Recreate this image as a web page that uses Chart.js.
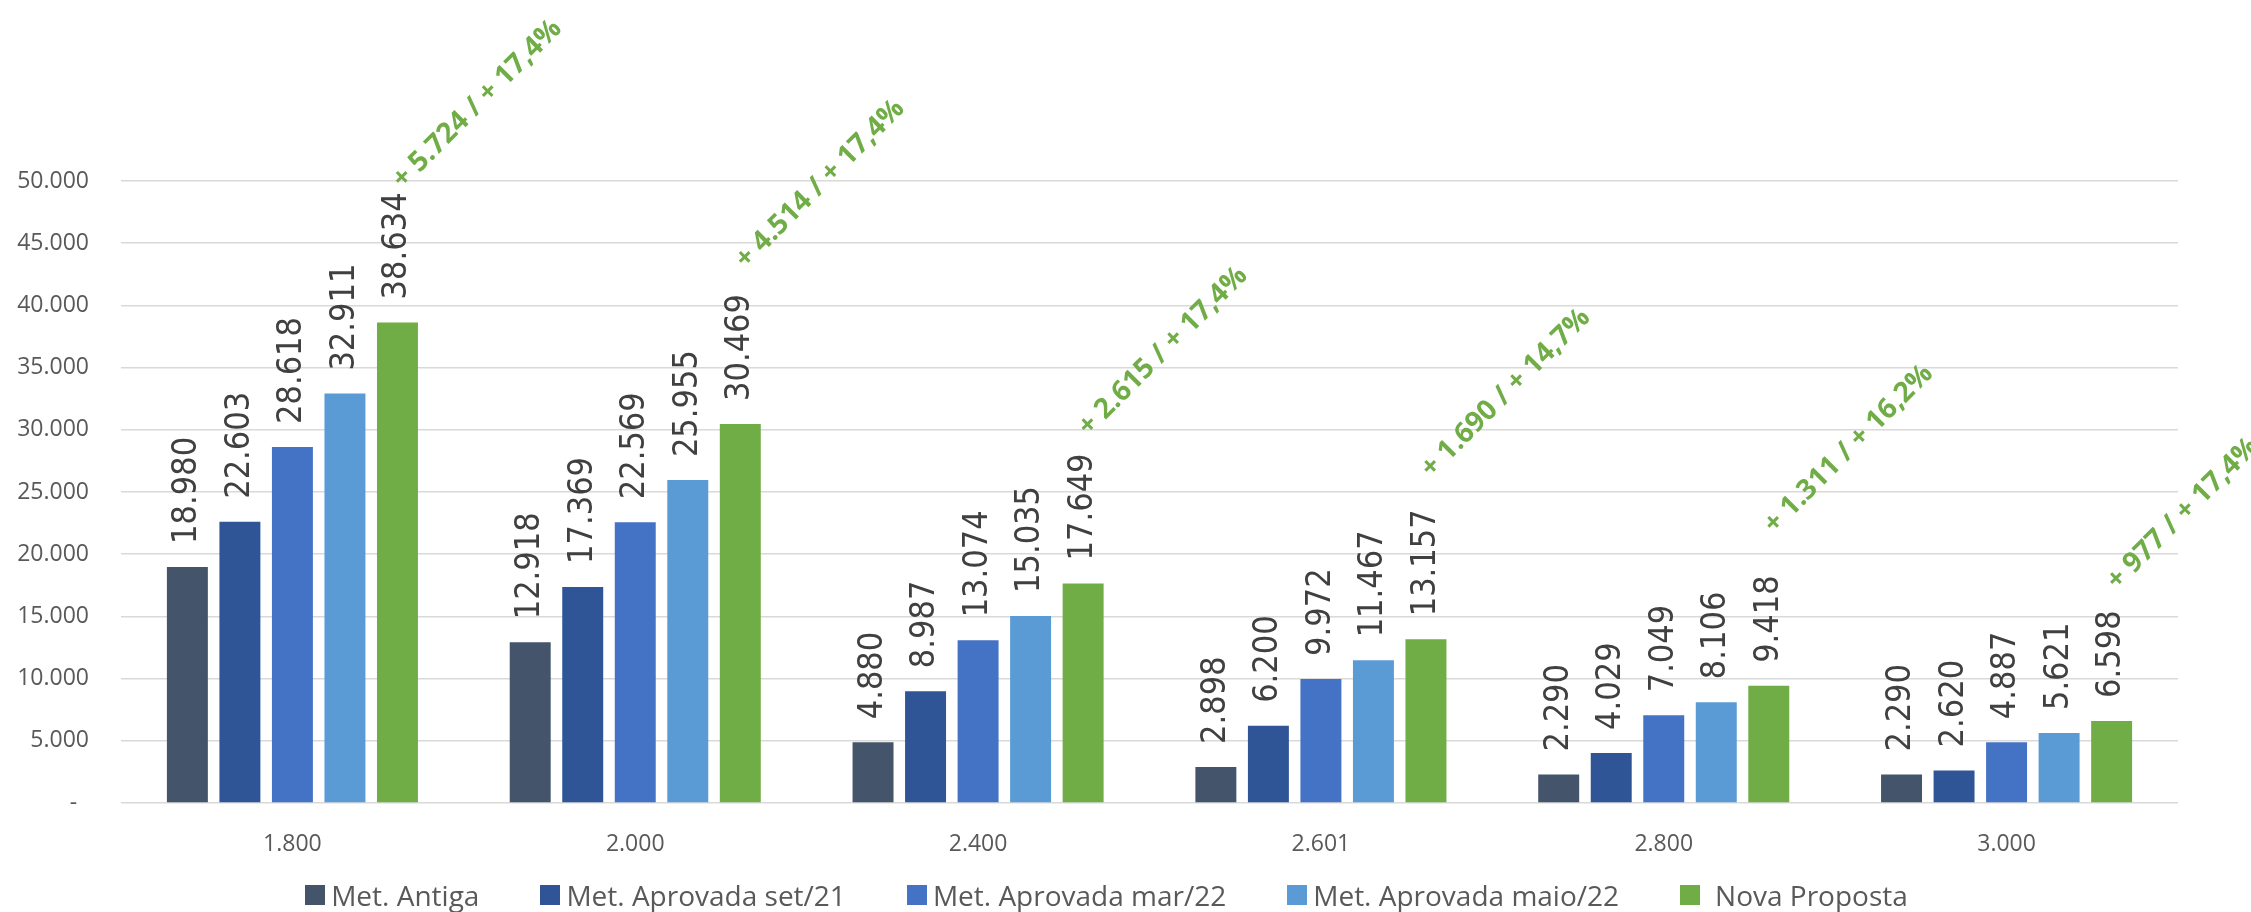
<!DOCTYPE html>
<html>
<head>
<meta charset="utf-8">
<script src="https://cdn.jsdelivr.net/npm/chart.js"></script>
<style>
  html, body { margin: 0; padding: 0; background: #fff; }
  #wrap { width: 2251px; height: 912px; position: relative; }
  #legenda {
    position: absolute; left: 0; top: 881px; width: 2213px;
    display: flex; justify-content: center; gap: 61px;
    font-family: 'Open Sans', sans-serif; font-size: 28px; line-height: 28px;
    color: #595959; white-space: nowrap;
  }
  #legenda .item { display: flex; align-items: center; }
  #legenda .box { width: 20px; height: 20px; margin-right: 6px; }
  #legenda .item:last-child .box { margin-right: 15px; }
</style>
</head>
<body>
<div id="wrap">
  <canvas id="barChart"></canvas>
  <div id="legenda"></div>
</div>
<script>
// categorias (eixo x)
var categorias = ["1.800", "2.000", "2.400", "2.601", "2.800", "3.000"];

// séries
var metAntiga      = [18980, 12918, 4880, 2898, 2290, 2290];
var aprovadaSet21  = [22603, 17369, 8987, 6200, 4029, 2620];
var aprovadaMar22  = [28618, 22569, 13074, 9972, 7049, 4887];
var aprovadaMaio22 = [32911, 25955, 15035, 11467, 8106, 5621];
var novaProposta   = [38634, 30469, 17649, 13157, 9418, 6598];

// diferença nova proposta x maio/22 e altura (valor no eixo) onde o texto começa
var ganhoTexto = ["+ 5.724 / + 17,4%", "+ 4.514 / + 17,4%", "+ 2.615 / + 17,4%",
                  "+ 1.690 / + 14,7%", "+ 1.311 / + 16,2%", "+ 977 / + 17,4%"];
var ganhoEm    = [49760, 43330, 29900, 26530, 22030, 17520];

// eixo y
var yMin = 0, yMax = 50000, yPasso = 5000;

function milhar(v) {
    return String(v).replace(/\B(?=(\d{3})+(?!\d))/g, '.');
}

var rotulosBarras = {
    id: 'rotulosBarras',
    afterDatasetsDraw: function (chart) {
        var ctx = chart.ctx;
        ctx.save();
        ctx.fillStyle = '#404040';
        ctx.font = "34px 'Liberation Sans Narrow', 'DejaVu Sans Condensed', sans-serif";
        ctx.textAlign = 'left';
        ctx.textBaseline = 'middle';
        chart.data.datasets.forEach(function (ds, i) {
            chart.getDatasetMeta(i).data.forEach(function (bar, j) {
                ctx.save();
                ctx.translate(bar.x, bar.y - 23);
                ctx.rotate(-Math.PI / 2);
                ctx.fillText(milhar(ds.data[j]), 0, 0);
                ctx.restore();
            });
        });

        // textos verdes de ganho
        var ultima = chart.getDatasetMeta(chart.data.datasets.length - 1);
        var y = chart.scales.y;
        ctx.fillStyle = '#70AD47';
        ctx.font = "bold 28px 'Open Sans', sans-serif";
        ultima.data.forEach(function (bar, j) {
            ctx.save();
            ctx.translate(bar.x, y.getPixelForValue(ganhoEm[j]));
            ctx.rotate(-Math.PI / 4);
            ctx.fillText(ganhoTexto[j], 0, 0);
            ctx.restore();
        });
        ctx.restore();
    }
};

var ctx = document.getElementById("barChart");
var myChart = new Chart(ctx, {
    type: 'bar',
    data: {
        labels: categorias,
        datasets: [
            { label: "Met. Antiga", data: metAntiga, backgroundColor: "#44546A" },
            { label: "Met. Aprovada set/21", data: aprovadaSet21, backgroundColor: "#2F5597" },
            { label: "Met. Aprovada mar/22", data: aprovadaMar22, backgroundColor: "#4472C4" },
            { label: "Met. Aprovada maio/22", data: aprovadaMaio22, backgroundColor: "#5B9BD5" },
            { label: "Nova Proposta", data: novaProposta, backgroundColor: "#70AD47" }
        ]
    },
    options: {
        responsive: true,
        maintainAspectRatio: false,
        animation: false,
        categoryPercentage: 0.766,
        barPercentage: 0.78,
        layout: { padding: { top: 181, left: 0, right: 73, bottom: 61 } },
        plugins: {
            tooltip: { enabled: false },
            legend: { display: false }
        },
        scales: {
            x: {
                grid: { display: false },
                border: { display: false },
                ticks: {
                    color: '#595959',
                    padding: 20,
                    font: { family: "'Open Sans', sans-serif", size: 23 }
                },
                afterFit: function (scale) { scale.height = 48; }
            },
            y: {
                min: yMin,
                max: yMax,
                border: { display: false },
                grid: { color: '#D9D9D9', lineWidth: 1.5, drawTicks: false },
                ticks: {
                    stepSize: yPasso,
                    color: '#595959',
                    padding: 32,
                    font: { family: "'Open Sans', sans-serif", size: 23 },
                    callback: function (v) { return v === 0 ? '-  ' : milhar(v); }
                },
                afterFit: function (scale) { scale.width = 121; }
            }
        }
    },
    plugins: [rotulosBarras]
});

// legenda em HTML, montada a partir das séries
var legenda = document.getElementById('legenda');
myChart.data.datasets.forEach(function (ds) {
    var item = document.createElement('span');
    item.className = 'item';
    var box = document.createElement('span');
    box.className = 'box';
    box.style.background = ds.backgroundColor;
    var txt = document.createElement('span');
    txt.textContent = ds.label;
    item.appendChild(box);
    item.appendChild(txt);
    legenda.appendChild(item);
});
</script>
</body>
</html>
